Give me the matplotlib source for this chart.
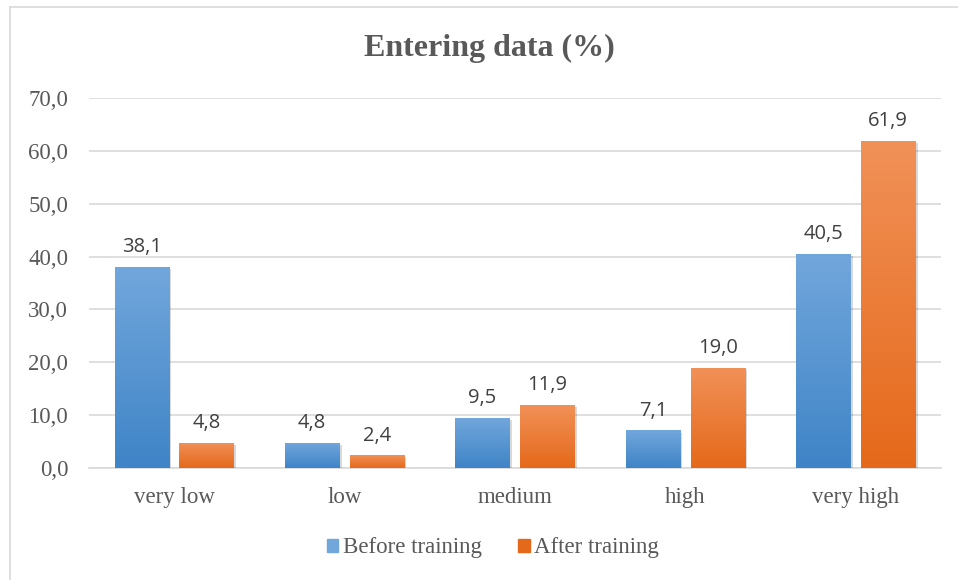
import numpy as np
import matplotlib
matplotlib.use("Agg")
import matplotlib.pyplot as plt
from matplotlib.colors import LinearSegmentedColormap
from matplotlib.patches import Rectangle
import matplotlib.patheffects as pe

categories = ["very low", "low", "medium", "high", "very high"]
before = [38.1, 4.8, 9.5, 7.1, 40.5]
after = [4.8, 2.4, 11.9, 19.0, 61.9]
series_names = ["Before training", "After training"]
yticks = [0, 10, 20, 30, 40, 50, 60, 70]

blue_top, blue_bot = "#72a7dc", "#3f84c7"
orange_top, orange_bot = "#f19158", "#e5691a"

fig = plt.figure(figsize=(9.58, 5.8), dpi=100)
ax = fig.add_axes([89 / 958, 1 - 468 / 580, (941 - 89) / 958, (468 - 98) / 580])

# chart frame (top and left edges visible)
fig.add_artist(plt.Line2D([10 / 958, 10 / 958], [0, 1 - 7 / 580], color="#d9d9d9", lw=1.2,
                          transform=fig.transFigure))
fig.add_artist(plt.Line2D([10 / 958, 1], [1 - 7 / 580, 1 - 7 / 580], color="#d9d9d9", lw=1.2,
                          transform=fig.transFigure))

x = np.arange(len(categories))
width = 0.32
offset = 0.19


def gradient_bars(xs, vals, top, bot, label):
    bars = ax.bar(xs, vals, width, color=bot, label=label, zorder=3,
                  path_effects=[pe.SimplePatchShadow(offset=(1.5, -1.5), shadow_rgbFace="#000000",
                                                     alpha=0.15), pe.Normal()])
    cmap = LinearSegmentedColormap.from_list("g", [bot, top])
    grad = np.linspace(0, 1, 256).reshape(-1, 1)
    for b in bars:
        x0, y0 = b.get_x(), b.get_y()
        w, h = b.get_width(), b.get_height()
        im = ax.imshow(grad, cmap=cmap, origin="lower", aspect="auto",
                       extent=[x0, x0 + w, y0, y0 + h], zorder=4)
        im.set_clip_path(b)
    return bars


gradient_bars(x - offset, before, blue_top, blue_bot, series_names[0])
gradient_bars(x + offset, after, orange_top, orange_bot, series_names[1])
ax.set_xlim(-0.5, len(categories) - 0.5)
ax.set_ylim(0, 70)

lbl_font = dict(family=["Open Sans", "DejaVu Sans"], size=14.5, color="#404040")
for xs, vals in ((x - offset, before), (x + offset, after)):
    for xi, v in zip(xs, vals):
        ax.annotate(f"{v:.1f}".replace(".", ","), (xi, v), xytext=(0, 7),
                    textcoords="offset points", ha="center", va="bottom", **lbl_font)

ax.set_yticks(yticks)
ax.set_yticklabels([f"{t:.1f}".replace(".", ",") for t in yticks])
ax.set_xticks(x)
ax.set_xticklabels(categories)
for t in ax.get_yticklabels() + ax.get_xticklabels():
    t.set_fontfamily("Liberation Serif")
    t.set_fontsize(16.5)
    t.set_color("#595959")
ax.tick_params(axis="both", length=0)
ax.tick_params(axis="y", pad=15)
ax.tick_params(axis="x", pad=14)

ax.grid(axis="y", color="#d9d9d9", lw=1.2, zorder=0)
ax.set_axisbelow(True)
for s in ("top", "right", "left"):
    ax.spines[s].set_visible(False)
ax.spines["bottom"].set_color("#d9d9d9")
ax.spines["bottom"].set_linewidth(1.2)

fig.text(489 / 958, 1 - 48 / 580, "Entering data (%)", ha="center", va="center",
         family="Liberation Serif", weight="bold", size=23, color="#595959")

leg = fig.legend(handles=[Rectangle((0, 0), 1, 1, color=blue_top), Rectangle((0, 0), 1, 1, color=orange_bot)],
                 labels=series_names, loc="center", bbox_to_anchor=(493 / 958, 1 - 548 / 580),
                 ncol=2, frameon=False, handlelength=0.5, handleheight=0.5, handletextpad=0.2,
                 columnspacing=1.6, prop=dict(family="Liberation Serif", size=16.5))
for t in leg.get_texts():
    t.set_color("#595959")

fig.savefig("out.png", dpi=100)
